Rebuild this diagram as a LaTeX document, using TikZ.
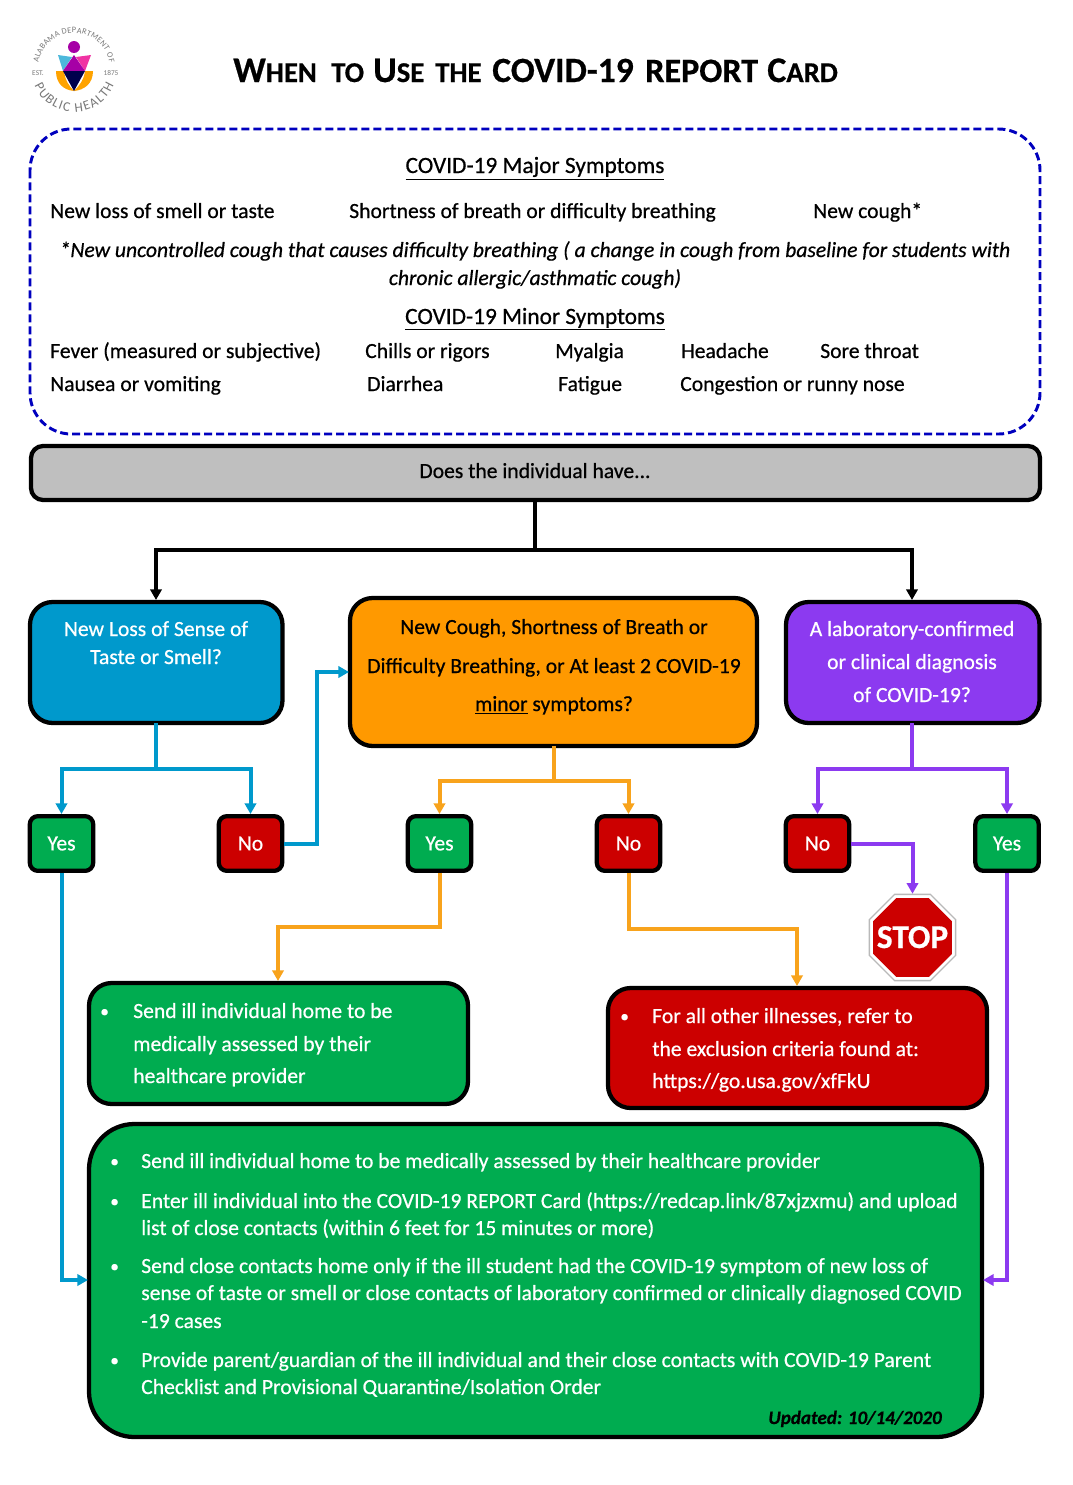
\documentclass[tikz,border=0pt]{standalone}
\usepackage{fontspec}
\setmainfont{Carlito}[RawFeature={embolden=0.6}]
\newfontfamily\logofont{Carlito}
\usetikzlibrary{arrows.meta,shapes.geometric,decorations.text}
\definecolor{cgreen}{RGB}{0,172,80}
\definecolor{cred}{RGB}{204,0,0}
\definecolor{cblue}{RGB}{0,153,204}
\definecolor{corange}{RGB}{255,153,0}
\definecolor{coline}{RGB}{248,163,28}
\definecolor{cpurple}{RGB}{140,58,240}
\definecolor{cgray}{RGB}{191,191,191}
\definecolor{cdash}{RGB}{0,0,190}
\definecolor{lgray}{RGB}{120,120,120}
\tikzset{
 x=0.75pt,y=-0.75pt,
 box/.style={draw=black,line width=3.2pt,rounded corners=#1},
 txt/.style={inner sep=0,font=\fontsize{16.2}{18}\selectfont,anchor=base west},
 ctxt/.style={inner sep=0,font=\fontsize{16.2}{18}\selectfont,anchor=base},
 head/.style={inner sep=0,font=\fontsize{17.5}{20}\selectfont,anchor=base},
 ttl/.style={inner sep=0,anchor=base west,font=\bfseries\fontsize{22}{32}\selectfont},
 wtxt/.style={txt,text=white},
 cwtxt/.style={ctxt,text=white},
 bull/.style={inner sep=0,text=white,font=\fontsize{13}{14}\selectfont,anchor=base west},
 conn/.style={line width=3pt,-{Triangle[length=8pt,width=8.5pt]}},
 plain/.style={line width=3pt},
 yn/.style={draw=black,line width=3.2pt,rounded corners=6pt,minimum width=47.5pt,minimum height=41pt,inner sep=0,text=white,font=\fontsize{16.2}{18}\selectfont},
}
\begin{document}
\begin{tikzpicture}
\useasboundingbox (0,0) rectangle (1072,1485);
\fill[white] (0,0) rectangle (1072,1485);
% logo
\fill[corange!90!yellow] (56,71) -- (64,71) .. controls (65,80) and (69,86) .. (74,91) .. controls (64,90) and (56,84) .. (56,71) -- cycle;
\fill[corange!90!yellow] (93,71) -- (85,71) .. controls (84,80) and (79,86) .. (74,91) .. controls (84,90) and (93,84) .. (93,71) -- cycle;
\fill[cblue!70!white] (58,55) -- (72,57) -- (63,71) -- cycle;
\fill[magenta!80!white] (91,55) -- (76,57) -- (85,71) -- cycle;
\fill[violet!70!magenta] (74,55) -- (63,71) -- (85,71) -- cycle;
\fill[blue!30!black] (63,71) -- (85,71) -- (74,91) -- cycle;
\fill[violet!70!magenta] (74,47) circle (6);
\begin{scope}[shift={(74,69)},y=0.75pt]
 \path[decorate,decoration={text along path,text align=fit to path,text={|\logofont\fontsize{6.2}{7}\selectfont\color{lgray}|ALABAMA DEPARTMENT OF}}] (170:36) arc (170:10:36);
 \path[decorate,decoration={text along path,text align=fit to path,text={|\logofont\fontsize{10}{11}\selectfont\color{lgray}|PUBLIC HEALTH}}] (203:43) arc (203:338:43);
\end{scope}
\node[inner sep=0,font=\logofont\fontsize{5.5}{6}\selectfont,text=lgray] (est) at (38,73) {EST.};
\node[inner sep=0,font=\logofont\fontsize{5.5}{6}\selectfont,text=lgray] (yr) at (111,73) {1875};
% title
\node[ttl] (tw) at (233,82) {\fontsize{27}{32}\selectfont W\fontsize{21.5}{32}\selectfont HEN};
\node[ttl] (tt) at (331,82) {\fontsize{21.5}{32}\selectfont TO};
\node[ttl] (tu) at (373,82) {\fontsize{27}{32}\selectfont U\fontsize{21.5}{32}\selectfont SE};
\node[ttl] (th) at (435,82) {\fontsize{21.5}{32}\selectfont THE};
\node[ttl] (tc) at (492,82) {\fontsize{26.6}{32}\selectfont COVID-19};
\node[ttl] (tr) at (645,82) {\fontsize{25.6}{32}\selectfont REPORT};
\node[ttl] (td) at (767,82) {\fontsize{27}{32}\selectfont C\fontsize{21.5}{32}\selectfont ARD};
% symptoms
\draw[cdash,line width=2.2pt,dash pattern=on 6pt off 3pt,rounded corners=31pt] (30,129) rectangle (1040,434);
\node[head] (maj) at (535,173) {\underline{COVID-19 Major Symptoms}};
\node[txt] (s1) at (50,218) {New loss of smell or taste};
\node[txt] (s2) at (349,218) {Shortness of breath or difficulty breathing};
\node[txt] (s3) at (813,218) {New cough*};
\node[ctxt] (n1) at (535,257) {\itshape *New uncontrolled cough that causes difficulty breathing ( a change in cough from baseline for students with};
\node[ctxt] (n2) at (535,285) {\itshape chronic allergic/asthmatic cough)};
\node[head] (min) at (535,324) {\underline{COVID-19 Minor Symptoms}};
\node[txt] (m1) at (50,358) {Fever (measured or subjective)};
\node[txt] (m2) at (365,358) {Chills or rigors};
\node[txt] (m3) at (555,358) {Myalgia};
\node[txt] (m4) at (681,358) {Headache};
\node[txt] (m5) at (820,358) {Sore throat};
\node[txt] (m6) at (50,391) {Nausea or vomiting};
\node[txt] (m7) at (367,391) {Diarrhea};
\node[txt] (m8) at (558,391) {Fatigue};
\node[txt] (m9) at (680,391) {Congestion or runny nose};
% question bar
\draw[box=9pt,fill=cgray] (31,446) rectangle (1040,500);
\node[ctxt] (q) at (535,478) {Does the individual have...};
\coordinate (qb) at (535,500);
\coordinate (qj) at (535,550);
% three boxes
\draw[box=17pt,fill=cblue] (30,602) rectangle (282.5,723);
\node[cwtxt] (b1a) at (156,636) {New Loss of Sense of};
\node[cwtxt] (b1b) at (156,664) {Taste or Smell?};
\draw[box=17pt,fill=corange] (350,598) rectangle (757,746);
\node[ctxt] (b2a) at (554,634) {New Cough, Shortness of Breath or};
\node[ctxt] (b2b) at (554,673) {Difficulty Breathing, or At least 2 COVID-19};
\node[ctxt] (b2c) at (554,711) {\underline{minor} symptoms?};
\draw[box=17pt,fill=cpurple] (786,602) rectangle (1039.5,723);
\node[cwtxt] (b3a) at (912,636) {A laboratory-confirmed};
\node[cwtxt] (b3b) at (912,669) {or clinical diagnosis};
\node[cwtxt] (b3c) at (912,702) {of COVID-19?};
% yes/no
\node[yn,fill=cgreen] (y1) at (61.5,843.5) {Yes};
\node[yn,fill=cred] (n1b) at (250.5,843.5) {No};
\node[yn,fill=cgreen] (y2) at (439.5,843.5) {Yes};
\node[yn,fill=cred] (n2b) at (628.5,843.5) {No};
\node[yn,fill=cred] (n3) at (817.5,843.5) {No};
\node[yn,fill=cgreen] (y3) at (1007,843.5) {Yes};
% stop
\node[regular polygon,regular polygon sides=8,draw=gray!55,fill=white,line width=1pt,minimum size=70pt,inner sep=0] (stopo) at (912.5,937.5) {};
\node[regular polygon,regular polygon sides=8,draw=none,fill=cred,minimum size=64pt,inner sep=0] (stop) at (912.5,937.5) {};
\node[inner sep=0,text=white,font=\bfseries\fontsize{25}{28}\selectfont,anchor=base] (stopt) at (912.5,948) {STOP};
% action boxes
\draw[box=17pt,fill=cgreen] (89,983) rectangle (468,1104);
\node[bull] (g0) at (100,1017) {•};
\node[wtxt] (g1) at (133,1018) {Send ill individual home to be};
\node[wtxt] (g2) at (133,1051) {medically assessed by their};
\node[wtxt] (g3) at (133,1083) {healthcare provider};
\draw[box=17pt,fill=cred] (608,988) rectangle (987,1108);
\node[bull] (r0) at (620,1022) {•};
\node[wtxt] (r1) at (652,1023) {For all other illnesses, refer to};
\node[wtxt] (r2) at (652,1056) {the exclusion criteria found at:};
\node[wtxt] (r3) at (652,1088) {https://go.usa.gov/xfFkU};
\draw[box=34pt,fill=cgreen] (89,1124) rectangle (982,1437);
\foreach \n/\y in {d1/1167,d2/1207,d3/1272,d4/1366}{\node[bull] (\n) at (110,\y) {•};}
\node[wtxt] (t1) at (141,1168) {Send ill individual home to be medically assessed by their healthcare provider};
\node[wtxt] (t2) at (141,1208) {Enter ill individual into the COVID-19 REPORT Card (https://redcap.link/87xjzxmu) and upload};
\node[wtxt] (t3) at (141,1235) {list of close contacts (within 6 feet for 15 minutes or more)};
\node[wtxt] (t4) at (141,1273) {Send close contacts home only if the ill student had the COVID-19 symptom of new loss of};
\node[wtxt] (t5) at (141,1300) {sense of taste or smell or close contacts of laboratory confirmed or clinically diagnosed COVID};
\node[wtxt] (t6) at (141,1328) {-19 cases};
\node[wtxt] (t7) at (141,1367) {Provide parent/guardian of the ill individual and their close contacts with COVID-19 Parent};
\node[wtxt] (t8) at (141,1394) {Checklist and Provisional Quarantine/Isolation Order};
\node[inner sep=0,anchor=base east,font=\itshape\bfseries\fontsize{14.3}{16}\selectfont] (upd) at (942,1424) {Updated: 10/14/2020};
% connectors
\draw[plain] (qb) -- (qj);
\draw[conn] (qj) -| (156,600);
\draw[conn] (qj) -| (912,600);
\draw[plain,cblue] (156,723) -- (156,769);
\draw[conn,cblue] (156,769) -| (y1.north);
\draw[conn,cblue] (156,769) -| (n1b.north);
\draw[conn,cblue] (n1b.east) -- (317,843.5) |- (349,672);
\draw[conn,cblue] (y1.south) |- (88,1280);
\draw[plain,coline] (554,746) -- (554,781);
\draw[conn,coline] (554,781) -| (y2.north);
\draw[conn,coline] (554,781) -| (n2b.north);
\draw[conn,coline] (y2.south) -- (439.5,927) -| (278,981);
\draw[conn,coline] (n2b.south) -- (628.5,929) -| (797,986);
\draw[plain,cpurple] (912,723) -- (912,769);
\draw[conn,cpurple] (912,769) -| (n3.north);
\draw[conn,cpurple] (912,769) -| (y3.north);
\draw[conn,cpurple] (n3.east) -- (912.5,843.5) -- (stopo.north);
\draw[conn,cpurple] (y3.south) |- (983,1280);
\end{tikzpicture}
\end{document}
